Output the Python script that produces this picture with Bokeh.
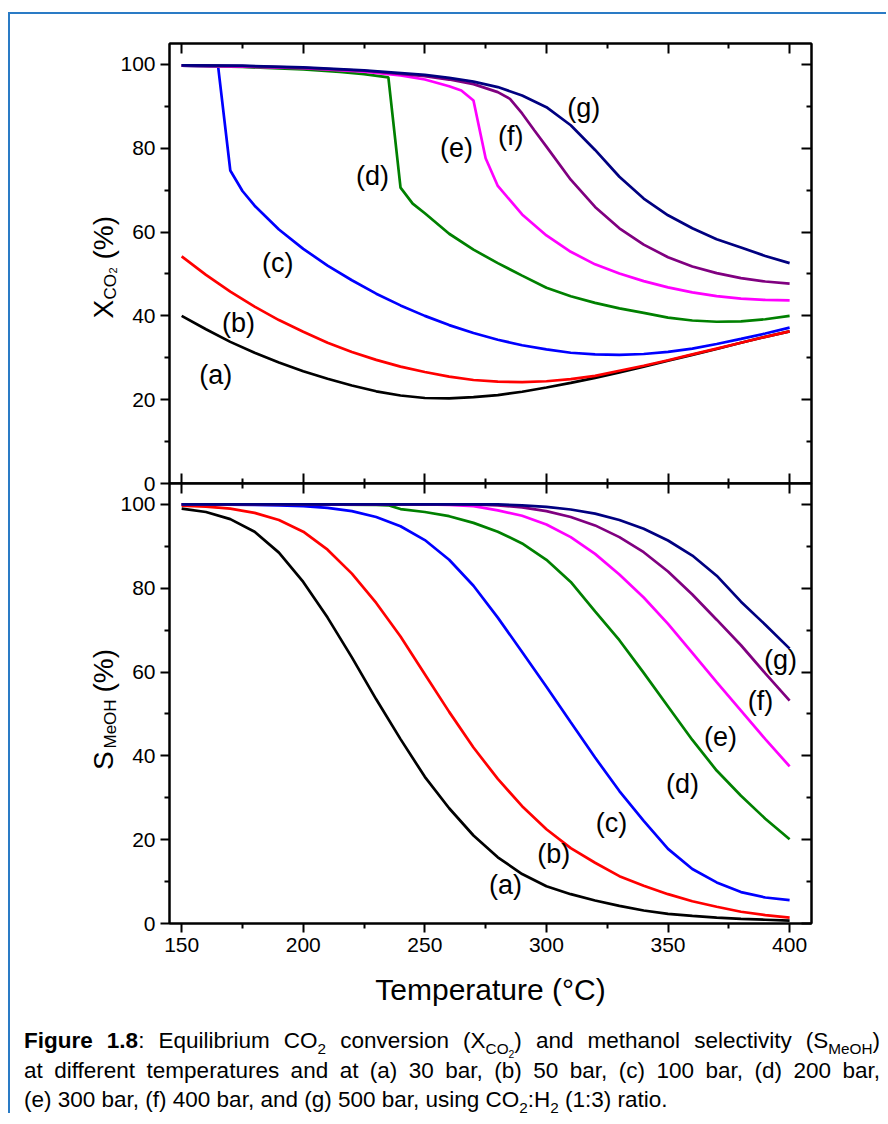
from bokeh.plotting import figure
from bokeh.models import Range1d, LinearAxis, FixedTicker, Div, ColumnDataSource
from bokeh.layouts import column, row
from bokeh.embed import file_html
from bokeh.resources import INLINE
from bokeh.core.properties import value

FONT = "Liberation Sans"

# ---------------- data ----------------
T10 = [150, 160, 170, 180, 190, 200, 210, 220, 230, 240, 250, 260, 270, 280, 290,
       300, 310, 320, 330, 340, 350, 360, 370, 380, 390, 400]

# Top panel: equilibrium CO2 conversion X_CO2 (%)
x_a = [40.0, 36.8, 33.8, 31.2, 28.9, 26.8, 25.0, 23.4, 22.0, 21.0, 20.4, 20.3, 20.6,
       21.1, 21.9, 22.9, 24.0, 25.2, 26.5, 27.9, 29.3, 30.7, 32.1, 33.6, 35.0, 36.3]
x_b = [54.2, 49.8, 45.8, 42.2, 39.0, 36.2, 33.6, 31.4, 29.5, 27.9, 26.6, 25.5, 24.7,
       24.3, 24.2, 24.4, 24.9, 25.7, 26.9, 28.1, 29.4, 30.8, 32.2, 33.6, 35.0, 36.3]
T_xc = [150, 160, 165, 170, 175, 180, 190, 200, 210, 220, 230, 240, 250, 260, 270, 280,
        290, 300, 310, 320, 330, 340, 350, 360, 370, 380, 390, 400]
x_c = [99.7, 99.6, 99.5, 74.7, 69.8, 66.3, 60.6, 56.0, 52.0, 48.5, 45.3, 42.5, 40.0,
       37.8, 35.9, 34.3, 33.0, 32.0, 31.2, 30.8, 30.7, 30.9, 31.4, 32.2, 33.3, 34.5, 35.8, 37.2]
T_xd = [150, 175, 200, 215, 225, 235, 240, 245, 250, 260, 270, 280, 290, 300, 310, 320,
        330, 340, 350, 360, 370, 380, 390, 400]
x_d = [99.7, 99.4, 98.8, 98.2, 97.7, 96.9, 70.6, 66.8, 64.5, 59.6, 55.8, 52.6, 49.6,
       46.7, 44.7, 43.1, 41.8, 40.7, 39.6, 38.9, 38.6, 38.7, 39.2, 40.0]
T_xe = [150, 175, 200, 225, 240, 250, 260, 265, 270, 275, 280, 285, 290, 300, 310, 320,
        330, 340, 350, 360, 370, 380, 390, 400]
x_e = [99.7, 99.5, 99.1, 98.3, 97.4, 96.4, 94.8, 93.8, 91.4, 77.6, 71.0, 67.6, 64.2,
       59.2, 55.3, 52.3, 50.1, 48.3, 46.8, 45.6, 44.7, 44.1, 43.8, 43.7]
T_xf = [150, 175, 200, 225, 250, 260, 270, 280, 285, 290, 295, 300, 310, 320, 330, 340,
        350, 360, 370, 380, 390, 400]
x_f = [99.8, 99.6, 99.2, 98.5, 97.2, 96.4, 95.3, 93.4, 91.8, 88.3, 84.3, 80.4, 72.5,
       66.0, 60.9, 57.0, 54.0, 51.8, 50.2, 49.0, 48.2, 47.7]
T_xg = [150, 175, 200, 225, 250, 260, 270, 280, 290, 300, 310, 320, 330, 340, 350, 360,
        370, 380, 390, 400]
x_g = [99.8, 99.7, 99.3, 98.6, 97.5, 96.8, 95.9, 94.6, 92.6, 89.8, 85.5, 79.6, 73.2,
       68.0, 64.0, 60.9, 58.3, 56.3, 54.3, 52.6]

# Bottom panel: methanol selectivity S_MeOH (%)
s_a = [99.0, 98.2, 96.5, 93.5, 88.5, 81.5, 73.0, 63.5, 53.5, 44.0, 35.0, 27.5, 21.0,
       15.8, 11.8, 8.9, 7.0, 5.5, 4.2, 3.1, 2.3, 1.8, 1.4, 1.1, 0.9, 0.7]
s_b = [99.7, 99.5, 99.0, 98.0, 96.3, 93.5, 89.2, 83.5, 76.5, 68.5, 59.5, 50.5, 42.0,
       34.5, 28.0, 22.5, 18.0, 14.5, 11.3, 9.0, 7.0, 5.3, 4.0, 2.8, 2.0, 1.4]
s_c = [100.0, 100.0, 99.95, 99.9, 99.8, 99.6, 99.2, 98.4, 97.0, 94.8, 91.5, 86.8, 80.6,
       73.0, 64.8, 56.5, 48.0, 39.6, 31.6, 24.5, 17.8, 13.0, 9.8, 7.5, 6.2, 5.6]
T_sd = [150, 200, 230, 235, 240, 250, 260, 270, 280, 290, 300, 310, 320, 330, 340, 350,
        360, 370, 380, 390, 400]
s_d = [100.0, 100.0, 99.9, 99.8, 98.9, 98.2, 97.2, 95.6, 93.5, 90.7, 86.8, 81.5, 74.5,
       67.6, 59.8, 51.8, 43.8, 36.5, 30.5, 25.0, 20.1]
T_se = [150, 250, 260, 270, 280, 290, 300, 310, 320, 330, 340, 350, 360, 370, 380, 390, 400]
s_e = [100.0, 100.0, 99.9, 99.6, 98.6, 97.3, 95.2, 92.2, 88.2, 83.3, 77.8, 71.5, 64.6,
       57.6, 50.8, 44.0, 37.5]
T_sf = [150, 270, 280, 290, 300, 310, 320, 330, 340, 350, 360, 370, 380, 390, 400]
s_f = [100.0, 100.0, 99.8, 99.3, 98.4, 97.0, 95.0, 92.2, 88.6, 84.0, 78.5, 72.5, 66.4,
       59.7, 53.2]
T_sg = [150, 280, 290, 300, 310, 320, 330, 340, 350, 360, 370, 380, 390, 400]
s_g = [100.0, 100.0, 99.8, 99.4, 98.8, 97.8, 96.3, 94.2, 91.4, 87.8, 83.0, 76.8, 71.3, 65.6]

curve_names = ["(a)", "(b)", "(c)", "(d)", "(e)", "(f)", "(g)"]
curve_colors = ["black", "#ff0000", "#0000ff", "#008000", "#ff00ff", "#800080", "#000080"]

top_lab_x = [164, 173.4, 189.5, 228.5, 263, 285.3, 315.3]
top_lab_y = [25.8, 38.4, 52.7, 73.3, 80, 83, 89.5]
bot_lab_x = [283.2, 303, 326.8, 356, 371.6, 388, 396.3]
bot_lab_y = [9.1, 16.5, 23.9, 33.4, 44.6, 53, 62.8]

x_major = [150, 200, 250, 300, 350, 400]
x_minor = [175, 225, 275, 325, 375]
y_major = [0, 20, 40, 60, 80, 100]
y_minor = [10, 30, 50, 70, 90]

# y-axis titles (pieces with sub-/sub-subscripts), placed in a title strip
ytitle_text = ["X", "CO", "2", "(%)", "S", "MeOH", "(%)"]
ytitle_size = ["28px", "17px", "11px", "28px", "28px", "17px", "28px"]
ytitle_x = [93, 100, 102.5, 93, 93, 100, 93]
ytitle_y = [304, 285, 259, 245, 755.5, 734, 678]

STRIP_W = 165
OVERLAP = 60
STACK_H = 1012

# ---------------- helpers ----------------
def make_fig(min_top, min_bottom):
    p = figure(frame_width=642, frame_height=440,
               x_range=Range1d(145, 409), y_range=Range1d(0, 105),
               output_backend="svg", toolbar_location=None,
               x_axis_location=None, y_axis_location=None,
               min_border_left=54, min_border_right=77,
               min_border_top=min_top, min_border_bottom=min_bottom,
               background_fill_color="white", border_fill_color=None)
    p.grid.visible = False
    p.outline_line_color = "black"
    p.outline_line_width = 2
    return p


def add_axis(p, side, labels, tin, tout, mtin, mtout):
    if side in ("below", "above"):
        ticker = FixedTicker(ticks=x_major, minor_ticks=x_minor)
    else:
        ticker = FixedTicker(ticks=y_major, minor_ticks=y_minor)
    ax = LinearAxis(ticker=ticker,
                    major_tick_in=tin, major_tick_out=tout,
                    minor_tick_in=mtin, minor_tick_out=mtout,
                    axis_line_width=2, axis_line_color="black",
                    major_tick_line_width=2, minor_tick_line_width=2,
                    major_tick_line_color="black", minor_tick_line_color="black")
    if labels:
        ax.major_label_text_font = FONT
        ax.major_label_text_font_size = "21px"
        ax.major_label_text_color = "black"
        ax.major_label_standoff = 5
    else:
        ax.major_label_text_color = None
        ax.major_label_standoff = 0
    p.add_layout(ax, side)
    return ax


def add_curves(p, series, lab_x, lab_y):
    for (tx, vy), col in zip(series, curve_colors):
        p.line(tx, vy, line_color=col, line_width=2.7)
    src = ColumnDataSource(dict(x=lab_x, y=lab_y, t=curve_names))
    p.text("x", "y", text="t", source=src, text_font=value(FONT),
           text_font_size="27px", text_color="black",
           text_align="center", text_baseline="middle")

# ---------------- top panel ----------------
p1 = make_fig(29, 24)
add_axis(p1, "left", True, 0, 9, 0, 5)
add_axis(p1, "right", False, 10, 0, 5, 0)
add_axis(p1, "above", False, 10, 0, 5, 0)
add_axis(p1, "below", False, 10, 0, 5, 0)
add_curves(p1, [(T10, x_a), (T10, x_b), (T_xc, x_c), (T_xd, x_d), (T_xe, x_e),
                (T_xf, x_f), (T_xg, x_g)], top_lab_x, top_lab_y)

# ---------------- bottom panel ----------------
p2 = make_fig(24, 103)
p2.margin = (-48, 0, 0, 0)
add_axis(p2, "left", True, 0, 9, 0, 5)
add_axis(p2, "right", False, 10, 0, 5, 0)
add_axis(p2, "above", False, 10, 0, 5, 0)
xb = add_axis(p2, "below", True, 0, 9, 0, 5)
xb.axis_label = "Temperature (°C)"
xb.axis_label_text_font = FONT
xb.axis_label_text_font_size = "30px"
xb.axis_label_text_font_style = "normal"
xb.axis_label_text_color = "black"
xb.axis_label_standoff = 18
add_curves(p2, [(T10, s_a), (T10, s_b), (T10, s_c), (T_sd, s_d), (T_se, s_e),
                (T_sf, s_f), (T_sg, s_g)], bot_lab_x, bot_lab_y)

# ---------------- y-title strip ----------------
pt = figure(width=STRIP_W, height=STACK_H, x_range=Range1d(0, STRIP_W),
            y_range=Range1d(STACK_H, 0), output_backend="svg", toolbar_location=None,
            x_axis_location=None, y_axis_location=None,
            min_border=0, background_fill_color=None, border_fill_color=None)
pt.grid.visible = False
pt.outline_line_color = None
tsrc = ColumnDataSource(dict(x=ytitle_x, y=ytitle_y, t=ytitle_text, s=ytitle_size))
pt.text("x", "y", text="t", source=tsrc, text_font=value(FONT), text_font_size="s",
        angle=1.5707963, text_color="black", text_align="left",
        text_baseline="alphabetic")

# ---------------- caption ----------------
SUB = '<sub style="font-size:68%;line-height:0">'
JUST = '<div style="width:856px;text-align:justify;text-align-last:justify">'
cap_html = (
    JUST + '<b>Figure 1.8</b>: Equilibrium CO' + SUB + '2</sub> conversion (X' + SUB + 'CO'
    + SUB + '2</sub></sub>) and methanol selectivity (S' + SUB + 'MeOH</sub>)</div>'
    + JUST + 'at different temperatures and at (a) 30 bar, (b) 50 bar, (c) 100 bar, (d) 200 bar,</div>'
    + '<div style="width:856px">(e) 300 bar, (f) 400 bar, and (g) 500 bar, using CO' + SUB
    + '2</sub>:H' + SUB + '2</sub> (1:3) ratio.</div>'
)
cap = Div(text=cap_html, width=856, margin=(0, 0, 0, 14),
          styles={"font-family": FONT, "font-size": "22.5px", "line-height": "29.5px",
                  "color": "black"})

stack = column(p1, p2, spacing=0, margin=(0, 0, 0, -OVERLAP))
root = column(row(pt, stack, spacing=0), cap,
              margin=(14, 0, 0, 10), spacing=0,
              styles={"box-shadow": "-2px -2px 0 0 #2a7bc5"})

open("out.html", "w").write(file_html(root, INLINE))
